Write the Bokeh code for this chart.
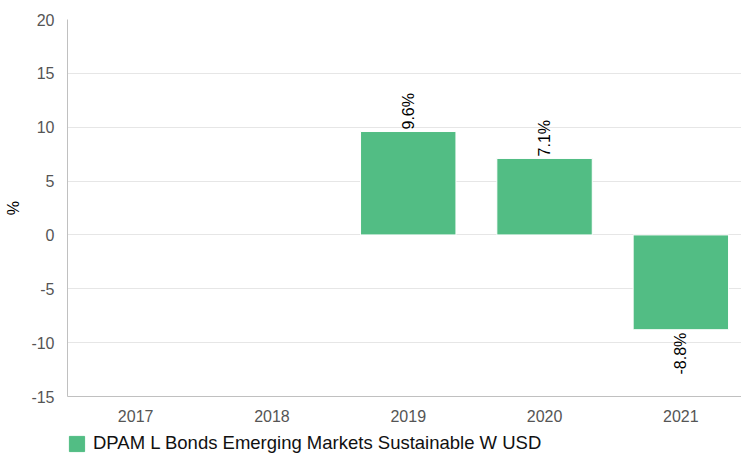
from bokeh.plotting import figure
from bokeh.layouts import column
from bokeh.models import (ColumnDataSource, Range1d, FixedTicker, Legend,
                          LegendItem, CustomJSTickFormatter)
from bokeh.core.properties import value
from bokeh.embed import file_html
from bokeh.resources import INLINE
import math

categories = ["2017", "2018", "2019", "2020", "2021"]
bar_years = ["2019", "2020", "2021"]
returns = [9.6, 7.1, -8.8]
y_ticks = [-15, -10, -5, 0, 5, 10, 15, 20]
series_name = "DPAM L Bonds Emerging Markets Sustainable W USD"

FONT = "Liberation Sans"
GREEN = "#52bd84"

cat_pos = list(range(len(categories)))
labels = [f"{v:.1f}%" for v in returns]
src = ColumnDataSource(dict(
    x=[categories.index(y) for y in bar_years],
    top=returns,
    label=labels,
    align=["left" if v >= 0 else "right" for v in returns],
    yoff=[-2 if v >= 0 else 3 for v in returns],
))

p = figure(
    width=741, height=424,
    x_range=Range1d(-0.5, 4.445),
    y_range=Range1d(-15, 20),
    output_backend="svg", toolbar_location=None,
    min_border_left=67, min_border_right=0, min_border_top=19, min_border_bottom=26,
)
p.outline_line_color = None
p.background_fill_color = "white"
p.border_fill_color = "white"

r = p.vbar(x="x", top="top", bottom=0, width=0.7, source=src,
           fill_color=GREEN, line_color="white", line_width=1)

p.text(x="x", y="top", text="label", source=src, angle=math.pi / 2,
       text_align="align", text_baseline="middle", y_offset="yoff",
       text_font=value(FONT), text_font_size="16px", text_color="#000000")

# axes
p.yaxis.ticker = FixedTicker(ticks=y_ticks)
p.yaxis.formatter = CustomJSTickFormatter(code="return tick.toString();")
p.yaxis.axis_label = "%"
p.yaxis.axis_label_text_font = FONT
p.yaxis.axis_label_text_font_style = "normal"
p.yaxis.axis_label_text_font_size = "16px"
p.yaxis.axis_label_text_color = "#000000"
p.yaxis.axis_label_standoff = 6
p.yaxis.major_label_text_font = FONT
p.yaxis.major_label_text_font_size = "16px"
p.yaxis.major_label_text_color = "#555555"
p.yaxis.major_label_standoff = 7
p.yaxis.major_tick_line_color = None
p.yaxis.minor_tick_line_color = None
p.yaxis.axis_line_color = "#c0c0c0"

p.xaxis.ticker = FixedTicker(ticks=cat_pos)
p.xaxis.major_label_overrides = {i: c for i, c in zip(cat_pos, categories)}
p.xaxis.major_label_text_font = FONT
p.xaxis.major_label_text_font_size = "16px"
p.xaxis.major_label_text_color = "#555555"
p.xaxis.major_label_standoff = 7
p.xaxis.major_tick_line_color = None
p.xaxis.minor_tick_line_color = None
p.xaxis.axis_line_color = "#c0c0c0"

p.xgrid.grid_line_color = None
p.ygrid.grid_line_color = "#e6e6e6"

# legend strip below the chart
lf = figure(width=741, height=31, x_range=Range1d(0, 1), y_range=Range1d(0, 1),
            x_axis_type=None, y_axis_type=None,
            output_backend="svg", toolbar_location=None,
            min_border_left=52, min_border_right=0, min_border_top=8, min_border_bottom=0)
lf.outline_line_color = None
lf.background_fill_color = "white"
lf.border_fill_color = "white"
lf.xgrid.visible = False
lf.ygrid.visible = False
dummy = lf.vbar(x=[-50], top=[-50], bottom=-51, width=1, fill_color=GREEN, line_color=GREEN)
legend = Legend(items=[LegendItem(label=series_name, renderers=[dummy])],
                location="top_left", orientation="horizontal",
                border_line_color=None, background_fill_alpha=0,
                glyph_width=19, glyph_height=19, label_standoff=7,
                label_text_font=FONT, label_text_font_size="18.5px",
                label_text_color="#111111", padding=0, margin=0)
lf.add_layout(legend, "center")

layout = column(p, lf, spacing=0)
open("out.html", "w").write(file_html(layout, INLINE))
